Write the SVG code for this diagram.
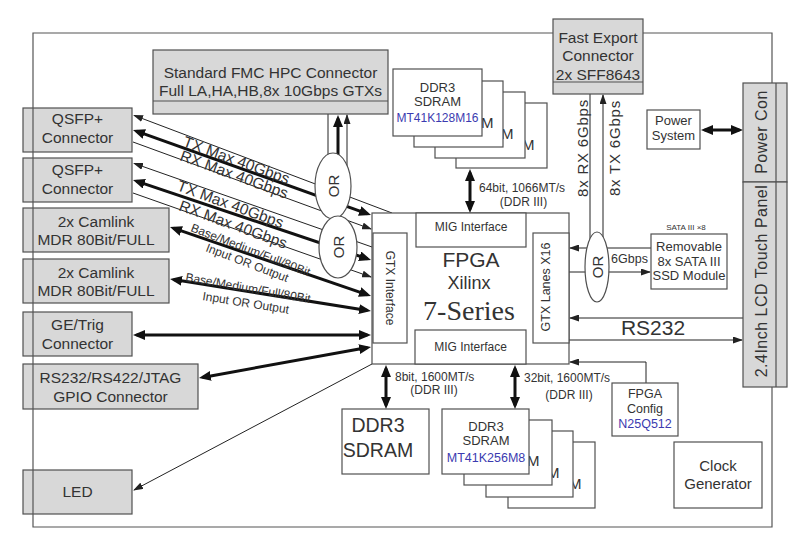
<svg xmlns="http://www.w3.org/2000/svg" width="794" height="540" viewBox="0 0 794 540">
<defs>
<style>
.box{fill:#d8d8d8;stroke:#505050;stroke-width:1.2}
.wb{fill:#fff;stroke:#505050;stroke-width:1.2}
.t{font-family:"Liberation Sans",Arial,sans-serif;fill:#333;text-anchor:middle}
.s{text-anchor:start}
.tn{stroke:#222;stroke-width:1;fill:none}
.tk{stroke:#111;stroke-width:3;fill:none}
.bl{fill:#3b3bb0}
.or{fill:#fff;stroke:#505050;stroke-width:1.2}
.fr{stroke:#555;stroke-width:1.2;fill:none}
</style>
<marker id="ak" viewBox="0 0 12 10" refX="8.4" refY="5" markerUnits="userSpaceOnUse" markerWidth="12" markerHeight="10" orient="auto-start-reverse"><path d="M0,0L12,5L0,10z" fill="#111"/></marker>
<marker id="an" viewBox="0 0 10 7" refX="9" refY="3.5" markerUnits="userSpaceOnUse" markerWidth="10" markerHeight="7" orient="auto-start-reverse"><path d="M0,0L10,3.5L0,7z" fill="#222"/></marker>
</defs>
<rect width="794" height="540" fill="#fff"/>

<g id="connectors">
<line class="tn" x1="134" y1="115.4" x2="392" y2="213" marker-start="url(#an)"/>
<line class="tk" x1="136.4" y1="131.2" x2="367.6" y2="213.8" marker-start="url(#ak)" marker-end="url(#ak)"/>
<line class="tn" x1="133" y1="142" x2="371" y2="229" marker-end="url(#an)"/>
<line class="tn" x1="134" y1="163.4" x2="372" y2="247" marker-start="url(#an)"/>
<line class="tk" x1="136.4" y1="181.1" x2="367.6" y2="258.9" marker-start="url(#ak)" marker-end="url(#ak)"/>
<line class="tn" x1="133" y1="193" x2="371" y2="277" marker-end="url(#an)"/>
<line class="tk" x1="173.4" y1="228.2" x2="367.6" y2="294.8" marker-start="url(#ak)" marker-end="url(#ak)"/>
<line class="tk" x1="173.6" y1="279.6" x2="367.4" y2="310.4" marker-start="url(#ak)" marker-end="url(#ak)"/>
<line class="tk" x1="136.6" y1="335" x2="367.4" y2="335" marker-start="url(#ak)" marker-end="url(#ak)"/>
<line class="tk" x1="202.5" y1="377.4" x2="367.5" y2="347.6" marker-start="url(#ak)" marker-end="url(#ak)"/>
<line class="tn" x1="372" y1="364" x2="134" y2="490" marker-end="url(#an)"/>
<line class="tn" x1="328" y1="114" x2="328" y2="160"/>
<line class="tk" x1="338" y1="165" x2="338" y2="118.6" marker-end="url(#ak)"/>
<line class="tn" x1="347" y1="172" x2="347" y2="115" marker-end="url(#an)"/>
<line class="tk" x1="470" y1="172.6" x2="470" y2="209.4" marker-start="url(#ak)" marker-end="url(#ak)"/>
<line class="tk" x1="386" y1="368.6" x2="386" y2="405.4" marker-start="url(#ak)" marker-end="url(#ak)"/>
<line class="tk" x1="515" y1="368.6" x2="515" y2="405.4" marker-start="url(#ak)" marker-end="url(#ak)"/>
<line class="tk" x1="704.6" y1="130" x2="739.4" y2="130" marker-start="url(#ak)" marker-end="url(#ak)"/>
<line class="tn" x1="590" y1="94" x2="590" y2="255"/>
<line class="tn" x1="603" y1="255" x2="603" y2="95" marker-end="url(#an)"/>
<line class="tn" x1="651" y1="248" x2="570" y2="248" marker-end="url(#an)"/>
<line class="tn" x1="569" y1="272" x2="650" y2="272" marker-end="url(#an)"/>
<line class="tn" x1="743" y1="318" x2="570" y2="318" marker-end="url(#an)"/>
<line class="tn" x1="569" y1="340" x2="742" y2="340" marker-end="url(#an)"/>
<polyline class="tn" points="646,383 646,362 570,362" marker-end="url(#an)"/>

<text class="t s" font-size="15.5" transform="translate(182,146) rotate(20)">TX Max 40Gbps</text>
<text class="t s" font-size="15.5" transform="translate(179,160) rotate(20)">RX Max 40Gbps</text>
<text class="t s" font-size="15.5" transform="translate(176,190) rotate(20)">TX Max 40Gbps</text>
<text class="t s" font-size="15.5" transform="translate(178,210) rotate(20)">RX Max 40Gbps</text>
<text class="t s" font-size="12" transform="translate(190,231) rotate(21)">Base/Medium/Full/80Bit</text>
<text class="t s" font-size="12" transform="translate(205,251) rotate(21)">Input OR Output</text>
<text class="t s" font-size="12" transform="translate(185,281) rotate(10)">Base/Medium/Full/80Bit</text>
<text class="t s" font-size="12" transform="translate(202,300) rotate(9)">Input OR Output</text>
<text class="t s" font-size="12" x="479" y="191.5">64bit, 1066MT/s</text>
<text class="t" font-size="12" x="523.5" y="205.5">(DDR III)</text>
<text class="t s" font-size="12" x="395" y="381.3">8bit, 1600MT/s</text>
<text class="t" font-size="12" x="434" y="394.3">(DDR III)</text>
<text class="t s" font-size="12" x="524" y="382.3">32bit, 1600MT/s</text>
<text class="t" font-size="12" x="569" y="398.8">(DDR III)</text>
<text class="t" font-size="15" letter-spacing="0.8" transform="translate(587.5,148) rotate(-90)">8x RX 6Gbps</text>
<text class="t" font-size="15" letter-spacing="0.8" transform="translate(619.5,148) rotate(-90)">8x TX 6Gbps</text>
<text class="t" font-size="12.5" x="629.5" y="262.5">6Gbps</text>
<text class="t" font-size="21" x="653" y="335">RS232</text>
<text class="t" font-size="8" x="686" y="229.5">SATA III ×8</text>
</g>

<g id="qsfp1"><rect class="box" x="23" y="108" width="109" height="44"/><text class="t" font-size="15.5" x="77.5" y="123.5">QSFP+</text><text class="t" font-size="15.5" x="77.5" y="142.5">Connector</text></g>
<g id="qsfp2"><rect class="box" x="23" y="158" width="109" height="44"/><text class="t" font-size="15.5" x="77.5" y="174.5">QSFP+</text><text class="t" font-size="15.5" x="77.5" y="193.5">Connector</text></g>
<g id="camlink1"><rect class="box" x="23" y="208" width="146" height="44"/><text class="t" font-size="15.5" x="96" y="226.5">2x Camlink</text><text class="t" font-size="15.5" x="96" y="244.5">MDR 80Bit/FULL</text></g>
<g id="camlink2"><rect class="box" x="23" y="259" width="146" height="44"/><text class="t" font-size="15.5" x="96" y="277.5">2x Camlink</text><text class="t" font-size="15.5" x="96" y="295.5">MDR 80Bit/FULL</text></g>
<g id="getrig"><rect class="box" x="23" y="312" width="109" height="44"/><text class="t" font-size="15.5" x="77.5" y="329.5">GE/Trig</text><text class="t" font-size="15.5" x="77.5" y="348.5">Connector</text></g>
<g id="rs232"><rect class="box" x="23" y="364" width="175" height="45"/><text class="t" font-size="15.5" x="110.5" y="382.5">RS232/RS422/JTAG</text><text class="t" font-size="15.5" x="110.5" y="401.5">GPIO Connector</text></g>
<g id="led"><rect class="box" x="23" y="470" width="109" height="44"/><text class="t" font-size="15.5" x="77.5" y="496.5">LED</text></g>

<g id="fmc"><rect class="box" x="153" y="50" width="235" height="64"/><line x1="153" y1="101" x2="388" y2="101" stroke="#505050" stroke-width="1.2"/><text class="t" font-size="15.5" x="270.5" y="77.5">Standard FMC HPC Connector</text><text class="t" font-size="15.5" x="270.5" y="95.5">Full LA,HA,HB,8x 10Gbps GTXs</text></g>

<g id="fastexport"><rect class="box" x="553" y="19" width="90" height="75"/><line x1="553" y1="82" x2="643" y2="82" stroke="#505050" stroke-width="1.2"/><text class="t" font-size="15.5" x="598" y="42.5">Fast Export</text><text class="t" font-size="15.5" x="598" y="60.5">Connector</text><text class="t" font-size="15.5" x="598" y="79.5">2x SFF8643</text></g>

<g id="ddr3-top">
<rect class="wb" x="456" y="103" width="91" height="65"/><text class="t s" font-size="15" x="522" y="150">M</text>
<rect class="wb" x="435" y="92" width="90" height="66"/><text class="t s" font-size="15" x="501" y="139">M</text>
<rect class="wb" x="414" y="81" width="89" height="66"/><text class="t s" font-size="15" x="481" y="128">M</text>
<rect class="wb" x="393" y="69" width="89" height="67"/>
<text class="t" font-size="13" x="437.5" y="91.7">DDR3</text><text class="t" font-size="13" x="437.5" y="105.7">SDRAM</text><text class="t bl" font-size="12" x="437.5" y="121.5">MT41K128M16</text>
</g>

<g id="power-system"><rect class="wb" x="647" y="110" width="53" height="39"/><text class="t" font-size="13" x="673.5" y="124.7">Power</text><text class="t" font-size="13" x="673.5" y="139.7">System</text></g>

<g id="power-con"><rect class="box" x="743" y="83" width="44" height="99"/><line x1="776" y1="83" x2="776" y2="182" stroke="#505050" stroke-width="1.2"/><text class="t" font-size="16" letter-spacing="0.5" transform="translate(767,132) rotate(-90)">Power Con</text></g>
<g id="lcd"><rect class="box" x="743" y="182" width="44" height="205"/><line x1="776" y1="182" x2="776" y2="387" stroke="#505050" stroke-width="1.2"/><text class="t" font-size="16" letter-spacing="0.5" transform="translate(767,281) rotate(-90)">2.4Inch LCD Touch Panel</text></g>

<g id="fpga">
<rect class="wb" x="372" y="213" width="197" height="151"/>
<rect class="wb" x="416" y="213" width="110" height="34"/><text class="t" font-size="12" x="471" y="231.3">MIG Interface</text>
<rect class="wb" x="415" y="330" width="111" height="34"/><text class="t" font-size="12" x="470.5" y="351.3">MIG Interface</text>
<rect class="wb" x="373" y="233" width="34" height="110"/><text class="t" font-size="12" transform="translate(386,288) rotate(90)">GTX Interface</text>
<rect class="wb" x="533" y="233" width="36" height="110"/><text class="t" font-size="12.5" transform="translate(549.5,287) rotate(-90)">GTX Lanes X16</text>
<text class="t" font-size="21" x="471" y="266.5">FPGA</text>
<text class="t" font-size="18" x="469" y="289">Xilinx</text>
<text class="t" font-size="28" x="469" y="320" style="font-family:'Liberation Serif','Times New Roman',serif">7-Series</text>
</g>

<g id="sata"><rect class="wb" x="651" y="234" width="76" height="55"/><text class="t" font-size="13" x="689" y="251">Removable</text><text class="t" font-size="13" x="689" y="266">8x SATA III</text><text class="t" font-size="13" x="689" y="280">SSD Module</text></g>

<g id="ddr3-single"><rect class="wb" x="342" y="409" width="87" height="65"/><text class="t" font-size="19.5" x="378" y="431.5">DDR3</text><text class="t" font-size="19.5" x="378" y="457">SDRAM</text></g>

<g id="ddr3-bottom">
<rect class="wb" x="508" y="442" width="87" height="66"/><text class="t s" font-size="15" x="569" y="489">M</text>
<rect class="wb" x="486" y="431" width="87" height="66"/><text class="t s" font-size="15" x="547" y="478">M</text>
<rect class="wb" x="464" y="420" width="88" height="65"/><text class="t s" font-size="15" x="527" y="466">M</text>
<rect class="wb" x="442" y="409" width="87" height="65"/>
<text class="t" font-size="13" x="486" y="430.5">DDR3</text><text class="t" font-size="13" x="486" y="445">SDRAM</text><text class="t bl" font-size="12.5" x="486" y="461.5">MT41K256M8</text>
</g>

<g id="fpga-config"><rect class="wb" x="612" y="383" width="66" height="53"/><text class="t" font-size="12.5" x="645" y="397.5">FPGA</text><text class="t" font-size="12.5" x="645" y="412.5">Config</text><text class="t bl" font-size="12.5" x="645" y="427.5">N25Q512</text></g>

<g id="clock"><rect class="wb" x="674" y="442" width="88" height="66"/><text class="t" font-size="15" x="718" y="470.5">Clock</text><text class="t" font-size="15" x="718" y="488.5">Generator</text></g>

<g id="or1"><ellipse class="or" cx="333" cy="186" rx="18" ry="33"/><text class="t" font-size="15" transform="translate(338.5,186) rotate(-90)">OR</text></g>
<g id="or2"><ellipse class="or" cx="338" cy="247" rx="19" ry="31"/><text class="t" font-size="15" transform="translate(343.5,247) rotate(-90)">OR</text></g>
<g id="or3"><ellipse class="or" cx="597" cy="267" rx="12" ry="35"/><text class="t" font-size="15" transform="translate(602.5,267) rotate(-90)">OR</text></g>

<g id="frame">
<path class="fr" d="M553,33 H33 V527 H772 V387 M643,33 H772 V83"/>
</g>
</svg>
